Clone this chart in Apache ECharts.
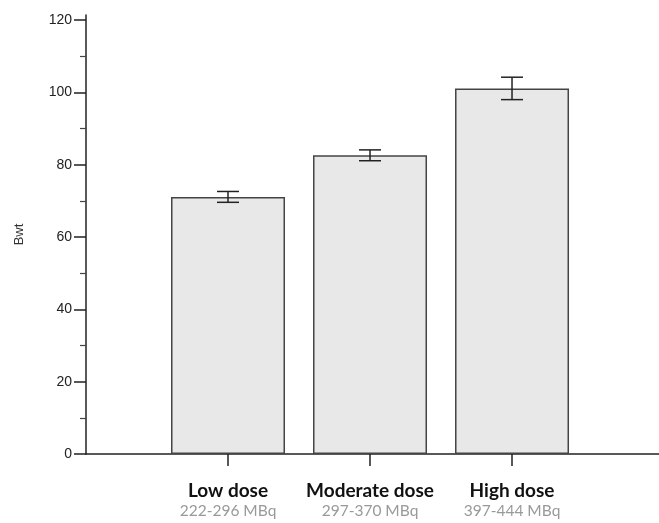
<!DOCTYPE html>
<html><head><meta charset="utf-8">
<script src="https://cdn.jsdelivr.net/npm/echarts@6/dist/echarts.min.js"></script>
<style>html,body{margin:0;padding:0;background:#fff}#c{width:659px;height:523px}</style>
</head><body><div id="c"></div>
<script>
const categories = ['Low dose', 'Moderate dose', 'High dose'];
const doseRanges = ['222-296 MBq', '297-370 MBq', '397-444 MBq'];
const positions = [1, 2, 3];
const means = [71.1, 82.6, 101.1];
const errors = [1.5, 1.5, 3.1];
const majorTicks = [0, 20, 40, 60, 80, 100, 120];
const minorTicks = [10, 30, 50, 70, 90, 110];

const barData = positions.map((p, i) => [p, means[i]]);
const errData = positions.map((p, i) => [p, means[i] - errors[i], means[i] + errors[i]]);

const chart = echarts.init(document.getElementById('c'), null, {renderer: 'canvas'});
const axisFont = 'Liberation Sans, Arial, sans-serif';
chart.setOption({
  animation: false,
  backgroundColor: '#fff',
  grid: {left: 86, right: 0, top: 15, bottom: 69},
  xAxis: {
    type: 'value', min: 0, max: 4.035,
    splitLine: {show: false},
    axisLine: {show: true, lineStyle: {color: '#222', width: 1.5}},
    axisTick: {show: true, customValues: positions, length: 12, lineStyle: {color: '#222', width: 1.5}},
    axisLabel: {
      customValues: positions, margin: 27,
      formatter: v => {
        const i = positions.indexOf(v);
        return i < 0 ? '' : '{a|' + categories[i] + '}\n{b|' + doseRanges[i] + '}';
      },
      rich: {
        a: {fontFamily: 'Lato, sans-serif', fontWeight: 'bold', fontSize: 19, color: '#111', lineHeight: 20},
        b: {fontFamily: 'Lato, sans-serif', fontSize: 15.5, color: '#999', lineHeight: 20}
      }
    }
  },
  yAxis: [{
    type: 'value', min: 0, max: 121.4,
    name: 'Bwt', nameLocation: 'middle', nameGap: 60,
    nameTextStyle: {fontFamily: axisFont, fontSize: 13, color: '#333'},
    splitLine: {show: false},
    axisLine: {show: true, lineStyle: {color: '#222', width: 1.5}},
    axisTick: {show: true, customValues: majorTicks, length: 12, lineStyle: {color: '#222', width: 1.5}},
    axisLabel: {customValues: majorTicks, margin: 14, fontFamily: axisFont, fontSize: 14, color: '#222'}
  }, {
    type: 'value', min: 0, max: 121.4, position: 'left',
    splitLine: {show: false},
    axisLine: {show: false},
    axisTick: {show: true, customValues: minorTicks, length: 6, lineStyle: {color: '#444', width: 1.2}},
    axisLabel: {show: false}
  }],
  series: [{
    type: 'bar', data: barData, barWidth: 114,
    itemStyle: {color: '#e8e8e8', borderColor: '#444', borderWidth: 1.5}
  }, {
    type: 'custom', data: errData,
    renderItem: (params, api) => {
      const x = api.value(0);
      const lo = api.coord([x, api.value(1)]);
      const hi = api.coord([x, api.value(2)]);
      const hw = 11;
      const style = {stroke: '#222', lineWidth: 1.5};
      return {type: 'group', children: [
        {type: 'line', shape: {x1: lo[0], y1: lo[1], x2: hi[0], y2: hi[1]}, style},
        {type: 'line', shape: {x1: lo[0] - hw, y1: lo[1], x2: lo[0] + hw, y2: lo[1]}, style},
        {type: 'line', shape: {x1: hi[0] - hw, y1: hi[1], x2: hi[0] + hw, y2: hi[1]}, style}
      ]};
    },
    z: 5
  }]
});
</script></body></html>
